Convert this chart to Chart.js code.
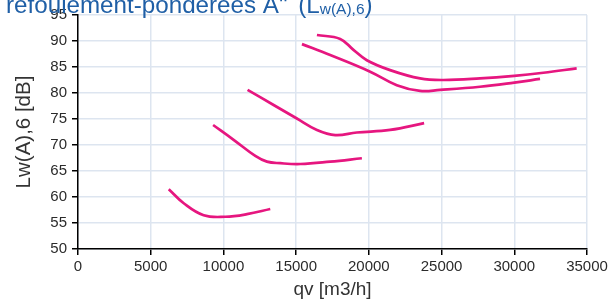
<!DOCTYPE html>
<html>
<head>
<meta charset="utf-8">
<script src="https://cdn.jsdelivr.net/npm/chart.js@4"></script>
<style>
  html, body { margin: 0; padding: 0; background: #fff; }
  #wrap { position: relative; width: 611px; height: 301px; }
</style>
</head>
<body>
<div id="wrap"><canvas id="c" width="611" height="301"></canvas></div>
<script>
// ---- data ----
const xTicks = [0, 5000, 10000, 15000, 20000, 25000, 30000, 35000];
const yTicks = [50, 55, 60, 65, 70, 75, 80, 85, 90, 95];

const curve1X = [6240, 7270, 8640, 10130, 11620, 13220];
const curve1Y = [61.5, 58.8, 56.5, 56.2, 56.7, 57.7];

const curve2X = [9290, 10700, 12190, 12990, 13910, 15280, 17340, 19520];
const curve2Y = [73.85, 71.0, 67.9, 66.8, 66.5, 66.35, 66.8, 67.45];

const curve3X = [11660, 13450, 15050, 16430, 17690, 19170, 21460, 23800];
const curve3Y = [80.6, 77.7, 75.1, 72.9, 71.9, 72.4, 72.9, 74.2];

const curve4X = [16430, 18030, 18940, 19860, 21460, 23520, 25120, 27640, 30000, 32000, 34290];
const curve4Y = [91.15, 90.4, 88.3, 86.3, 84.4, 82.8, 82.5, 82.8, 83.3, 83.9, 84.75];

const curve5X = [15400, 17340, 20090, 21920, 23520, 24900, 27640, 30000, 31770];
const curve5Y = [89.4, 87.3, 84.1, 81.5, 80.4, 80.6, 81.2, 82.0, 82.7];

const titleText = 'refoulement-pondérées A"';
const titleParen = '(L';
const titleSub = 'w(A),6';
const titleClose = ')';
const xTitle = 'qv [m3/h]';
const yTitle = 'Lw(A),6 [dB]';

// ---- build ----
function pts(xs, ys) { return xs.map((x, i) => ({ x: x, y: ys[i] })); }
const curves = [[curve1X, curve1Y], [curve2X, curve2Y], [curve3X, curve3Y], [curve4X, curve4Y], [curve5X, curve5Y]];
const lineColor = '#e6167f';

const datasets = curves.map(c => ({
  data: pts(c[0], c[1]),
  borderColor: lineColor,
  borderWidth: 2.7,
  pointRadius: 0,
  tension: 0.4,
  fill: false
}));

const FONT = "'Liberation Sans', Arial, sans-serif";

const titlePlugin = {
  id: 'topTitle',
  afterDraw(chart) {
    const ctx = chart.ctx;
    ctx.save();
    ctx.fillStyle = '#1f5fa6';
    ctx.textBaseline = 'alphabetic';
    ctx.textAlign = 'left';
    ctx.font = '24.2px ' + FONT;
    let x = 6, y = 12.5;
    ctx.fillText(titleText, x, y);
    x += ctx.measureText(titleText + ' ').width + 4;
    ctx.fillText(titleParen, x, y);
    x += ctx.measureText(titleParen).width;
    ctx.font = '15.5px ' + FONT;
    ctx.fillText(titleSub, x, y + 1.5);
    x += ctx.measureText(titleSub).width;
    ctx.font = '24.2px ' + FONT;
    ctx.fillText(titleClose, x, y);
    ctx.restore();
  }
};

new Chart(document.getElementById('c'), {
  type: 'line',
  data: { datasets: datasets },
  plugins: [titlePlugin],
  options: {
    responsive: false,
    animation: false,
    layout: { padding: { left: 0, right: 24, top: 15, bottom: 0 } },
    plugins: { legend: { display: false }, tooltip: { enabled: false } },
    scales: {
      x: {
        type: 'linear',
        min: xTicks[0],
        max: xTicks[xTicks.length - 1],
        afterBuildTicks(axis) { axis.ticks = xTicks.map(v => ({ value: v })); },
        afterFit(axis) { axis.height = 52; },
        border: { color: '#000', width: 1.5 },
        grid: { color: '#dde5f0', lineWidth: 1.5, tickColor: '#000', tickLength: 6, tickWidth: 1.5 },
        ticks: {
          color: '#2b2b2b', font: { family: FONT, size: 15 }, padding: 3,
          maxRotation: 0, autoSkip: false,
          callback: v => String(v)
        },
        title: {
          display: true, text: xTitle, color: '#333',
          font: { family: FONT, size: 19 }, padding: { top: 0, bottom: 0 }
        }
      },
      y: {
        type: 'linear',
        min: yTicks[0],
        max: yTicks[yTicks.length - 1],
        afterBuildTicks(axis) { axis.ticks = yTicks.map(v => ({ value: v })); },
        afterFit(axis) { axis.width = 78; },
        border: { color: '#000', width: 1.5 },
        grid: { color: '#dde5f0', lineWidth: 1.5, tickColor: '#000', tickLength: 6, tickWidth: 1.5 },
        ticks: {
          color: '#2b2b2b', font: { family: FONT, size: 15 }, padding: 5,
          autoSkip: false,
          callback: v => String(v)
        },
        title: {
          display: true, text: yTitle, color: '#333',
          font: { family: FONT, size: 20.5 }, padding: { top: 12, bottom: 0 }
        }
      }
    }
  }
});
</script>
</body>
</html>
